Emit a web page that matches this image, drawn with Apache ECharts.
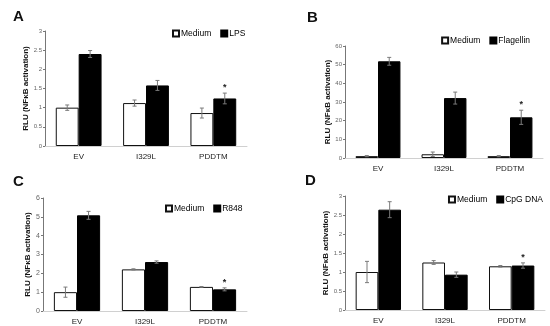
<!DOCTYPE html>
<html><head><meta charset="utf-8">
<script src="https://cdn.jsdelivr.net/npm/echarts@6/dist/echarts.min.js"></script>
<style>html,body{margin:0;padding:0;background:#fff}#c{width:550px;height:326px}</style>
</head><body><div id="c"></div>
<script>
var categories = ['EV', 'I329L', 'PDDTM'];
var treatments = ['LPS', 'Flagellin', 'R848', 'CpG DNA'];
var panelTitles = ['A', 'B', 'C', 'D'];

var mediumA = [1.0, 1.12, 0.86];
var mediumAErr = [0.07, 0.08, 0.13];
var lpsA = [2.4, 1.58, 1.24];
var lpsAErr = [0.09, 0.13, 0.14];

var mediumB = [1.0, 2.0, 1.0];
var mediumBErr = [0.3, 1.2, 0.3];
var flagellinB = [51.8, 32.1, 21.8];
var flagellinBErr = [2.1, 3.2, 3.8];

var mediumC = [1.0, 2.21, 1.28];
var mediumCErr = [0.27, 0.03, 0.02];
var r848C = [5.08, 2.6, 1.15];
var r848CErr = [0.21, 0.06, 0.08];

var mediumD = [1.0, 1.25, 1.15];
var mediumDErr = [0.28, 0.05, 0.02];
var cpgD = [2.64, 0.93, 1.17];
var cpgDErr = [0.21, 0.07, 0.07];

var starFlags = [0, 0, 1];
var yMax = [3, 60, 6, 3];
var yStep = [0.5, 10, 1, 0.5];

var mediums = [mediumA, mediumB, mediumC, mediumD];
var mediumErrs = [mediumAErr, mediumBErr, mediumCErr, mediumDErr];
var treats = [lpsA, flagellinB, r848C, cpgD];
var treatErrs = [lpsAErr, flagellinBErr, r848CErr, cpgDErr];

var FONT = 'Liberation Sans, Arial, sans-serif';
var grids = [
  {left: 45, top: 31, width: 202, height: 115},
  {left: 345, top: 46, width: 198, height: 112},
  {left: 43, top: 198, width: 204, height: 114},
  {left: 345, top: 196, width: 200, height: 114}
];
var titlePos = [[8, 4], [302, 5], [8, 169], [300, 168]];
var legendPos = [{left: 172, top: 29}, {right: 20, top: 36}, {left: 165, top: 204}, {right: 7, top: 195}];
var labelSizes = [6, 6, 7, 6];

function errRender(params, api) {
  var c = api.value(0), v = api.value(1), e = api.value(2), side = api.value(3), star = api.value(4);
  var band = api.size([1, 0])[0];
  var x = api.coord([c, v])[0] + (side ? 0.17 : -0.17) * band;
  var yT = api.coord([c, v + e])[1], yB = api.coord([c, v - e])[1];
  var st = {stroke: '#7a7a7a', lineWidth: 1};
  var ch = [
    {type: 'line', shape: {x1: x, y1: yT, x2: x, y2: yB}, style: st},
    {type: 'line', shape: {x1: x - 2, y1: yT, x2: x + 2, y2: yT}, style: st},
    {type: 'line', shape: {x1: x - 2, y1: yB, x2: x + 2, y2: yB}, style: st}
  ];
  if (star) {
    ch.push({type: 'text', style: {text: '*', x: x, y: yT - 1, textAlign: 'center', textVerticalAlign: 'bottom', fill: '#222', font: 'bold 9px ' + FONT}});
  }
  return {type: 'group', children: ch};
}

var option = {
  animation: false,
  backgroundColor: '#fff',
  title: [], legend: [], grid: [], xAxis: [], yAxis: [], series: []
};

for (var i = 0; i < 4; i++) {
  option.title.push({text: panelTitles[i], left: titlePos[i][0], top: titlePos[i][1],
    textStyle: {fontFamily: FONT, fontSize: 15, fontWeight: 'bold', color: '#111'}});
  var lg = {data: ['Medium', treatments[i]], orient: 'horizontal', width: 200,
    icon: 'rect', itemWidth: 6, itemHeight: 6, itemGap: 9, padding: 0,
    textStyle: {fontFamily: FONT, fontSize: 8.5, color: '#000', padding: [0, 0, 0, -3]}};
  for (var key in legendPos[i]) lg[key] = legendPos[i][key];
  option.legend.push(lg);
  option.grid.push(grids[i]);
  option.xAxis.push({type: 'category', gridIndex: i, data: categories,
    axisLine: {lineStyle: {color: '#d0d0d0'}}, axisTick: {show: false},
    axisLabel: {fontFamily: FONT, fontSize: 8, color: '#222', margin: 7}});
  option.yAxis.push({type: 'value', gridIndex: i, min: 0, max: yMax[i], interval: yStep[i],
    name: 'RLU (NFκB activation)', nameLocation: 'middle', nameGap: 9,
    nameTextStyle: {fontFamily: FONT, fontSize: 8, fontWeight: 'bold', color: '#111'},
    axisLine: {show: true, lineStyle: {color: '#777'}}, axisTick: {show: true, length: 2, lineStyle: {color: '#777'}},
    splitLine: {show: false},
    axisLabel: {fontFamily: FONT, fontSize: labelSizes[i], color: '#666', margin: 3}});
  option.series.push({type: 'bar', name: 'Medium', xAxisIndex: i, yAxisIndex: i, data: mediums[i],
    barWidth: '34%', barGap: '0%', itemStyle: {color: '#fff', borderColor: '#111', borderWidth: 1}});
  option.series.push({type: 'bar', name: treatments[i], xAxisIndex: i, yAxisIndex: i, data: treats[i],
    barWidth: '34%', barGap: '0%', itemStyle: {color: '#000', borderColor: '#000', borderWidth: 1}});
  var ed = [];
  for (var k = 0; k < categories.length; k++) {
    ed.push([k, mediums[i][k], mediumErrs[i][k], 0, 0]);
    ed.push([k, treats[i][k], treatErrs[i][k], 1, starFlags[k]]);
  }
  option.series.push({type: 'custom', name: 'err' + i, xAxisIndex: i, yAxisIndex: i, data: ed,
    renderItem: errRender, z: 5, silent: true});
}

var chart = echarts.init(document.getElementById('c'), null, {renderer: 'canvas'});
chart.setOption(option);
</script>
</body></html>
